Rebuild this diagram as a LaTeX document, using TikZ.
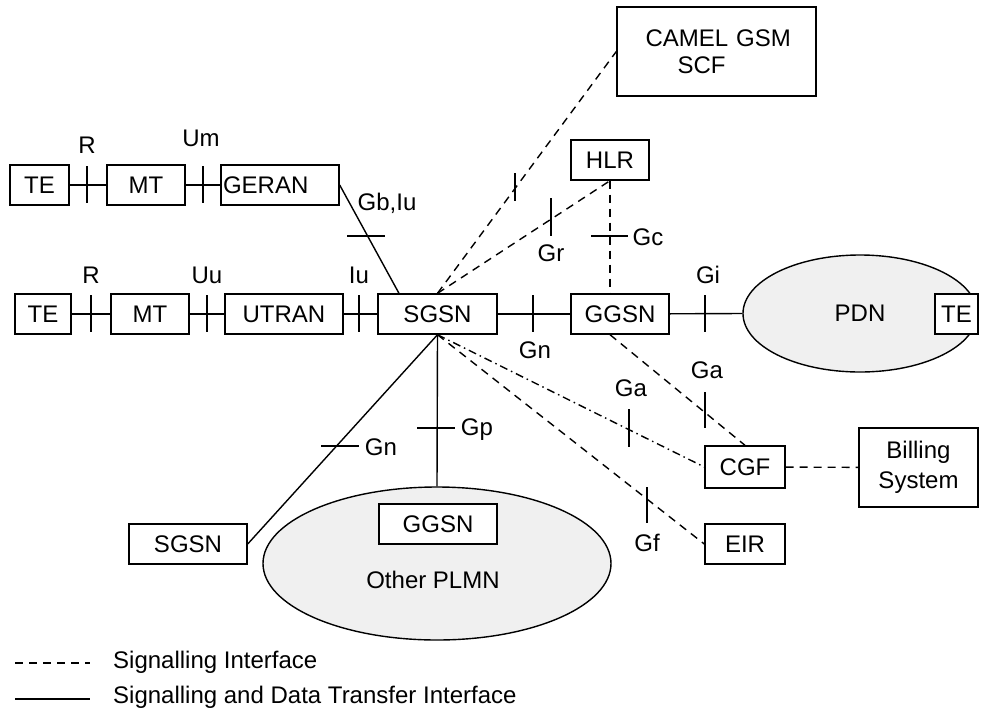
\documentclass[tikz,border=0pt]{standalone}
\usepackage{fontspec}
\setmainfont{Liberation Sans}
\usetikzlibrary{calc,shapes.geometric}
\begin{document}
\begin{tikzpicture}[x=1pt,y=-1pt,
  every node/.style={font=\fontsize{24}{29}\selectfont},
  ln/.style={line width=1.4pt},
  box/.style={draw, line width=1.4pt, fill=white, inner sep=0pt, minimum height=40pt},
  net/.style={draw, ellipse, line width=1.4pt, fill=black!6, inner sep=0pt},
  sig/.style={ln, dash pattern=on 8pt off 6pt},
  sigdot/.style={ln, dash pattern=on 8pt off 4pt on 1.5pt off 4pt},
  lbl/.style={inner sep=0pt}]
\useasboundingbox (0,0) rectangle (986,713);

% GERAN access row
\node[box, minimum width=59pt] (te1) at (39.5,185) {TE};
\node[box, minimum width=78pt] (mt1) at (146,185) {MT};
\node[box, minimum width=118pt, text width=114pt, align=left] (geran) at (280,185) {GERAN};

% UTRAN access row and core
\node[box, minimum width=56pt] (te2) at (43,314) {TE};
\node[box, minimum width=78pt] (mt2) at (150,314) {MT};
\node[box, minimum width=118pt] (utran) at (284,314) {UTRAN};
\node[box, minimum width=119pt] (sgsn) at (437.5,314) {SGSN};
\node[box, minimum width=98pt] (ggsn) at (620,314) {GGSN};
\node[box, minimum width=78pt] (hlr) at (610,160) {HLR};
\node[box, minimum width=199pt, minimum height=89pt, text width=142pt, align=left,
      font=\fontsize{24}{27}\selectfont] (camel) at (716.5,51.5)
      {\mbox{CAMEL GSM}\\\hspace*{32pt}SCF};

% packet data network
\node[net, minimum width=234pt, minimum height=117pt] (pdn) at (860,313.5) {PDN};
\node[box, minimum width=43pt] (te3) at (956.5,314) {TE};

% charging and equipment identity
\node[box, minimum width=80pt, minimum height=42pt] (cgf) at (745,467) {CGF};
\node[box, minimum width=119pt, minimum height=79pt, align=center,
      font=\fontsize{24}{30}\selectfont] (bill) at (918.5,467.5) {Billing\\System};
\node[box, minimum width=80pt] (eir) at (745,544) {EIR};

% other networks
\node[box, minimum width=118pt] (sgsn2) at (188,544) {SGSN};
\node[net, minimum width=348pt, minimum height=153pt] (plmn) at (437,563.5) {};
\node[lbl] (plmntxt) at (433,580) {Other PLMN};
\node[box, minimum width=118pt] (ggsn2) at (438,524) {GGSN};

% signalling and data transfer links
\draw[ln] (te1) -- (mt1);
\draw[ln] (mt1) -- (geran);
\draw[ln] (geran.east) -- ($(sgsn.north west)!0.18!(sgsn.north east)$);
\draw[ln] (te2) -- (mt2);
\draw[ln] (mt2) -- (utran);
\draw[ln] (utran) -- (sgsn);
\draw[ln] (sgsn) -- (ggsn);
\draw[ln] (ggsn) -- (pdn.west);
\draw[ln] (sgsn.south) -- (sgsn2.east);
\draw[ln] (sgsn.south) -- (plmn.north);

% signalling-only links
\draw[sig] (sgsn.north) -- (camel.west);
\draw[sig] (sgsn.north) -- (hlr.south);
\draw[sig] (hlr.south) -- (hlr.south |- ggsn.north);
\draw[sig] (hlr.south |- ggsn.south) -- (cgf.north);
\draw[sigdot] (sgsn.south) -- (cgf.west);
\draw[sig] (sgsn.south) -- (eir.west);
\draw[sig] (cgf) -- (bill);

% interface reference points
\draw[ln] (87,166) -- (87,203);
\draw[ln] (203,166) -- (203,203);
\draw[ln] (347,236) -- (385,236);
\draw[ln] (91,295) -- (91,332);
\draw[ln] (207,295) -- (207,332);
\draw[ln] (359,295) -- (359,332);
\draw[ln] (533,295) -- (533,332);
\draw[ln] (705,295) -- (705,332);
\draw[ln] (515,173) -- (515,201);
\draw[ln] (551,198) -- (551,236);
\draw[ln] (591,236) -- (628,236);
\draw[ln] (321,446) -- (359,446);
\draw[ln] (417,428) -- (455,428);
\draw[ln] (629,409) -- (629,447);
\draw[ln] (705,392) -- (705,428);
\draw[ln] (647,487) -- (647,523);

% interface names
\node[lbl] (lr1) at (87,145) {R};
\node[lbl] (lum) at (201,138) {Um};
\node[lbl] (lgb) at (387,203) {Gb,Iu};
\node[lbl] (lr2) at (91,275) {R};
\node[lbl] (luu) at (207,275) {Uu};
\node[lbl] (liu) at (359,275) {Iu};
\node[lbl] (lgr) at (551,253) {Gr};
\node[lbl] (lgc) at (648,237) {Gc};
\node[lbl] (lgn) at (535,350) {Gn};
\node[lbl] (lgi) at (708,275) {Gi};
\node[lbl] (lgn2) at (381,447) {Gn};
\node[lbl] (lgp) at (477,430) {Gp};
\node[lbl] (lga1) at (631,388) {Ga};
\node[lbl] (lga2) at (707,370) {Ga};
\node[lbl] (lgf) at (647,543) {Gf};

% legend
\coordinate (k1a) at (15,663);
\coordinate (k1b) at (90,663);
\coordinate (k2a) at (15,699);
\coordinate (k2b) at (90,699);
\draw[sig] (k1a) -- (k1b);
\draw[ln] (k2a) -- (k2b);
\node[lbl, anchor=west] (key1) at (113,662) {Signalling Interface};
\node[lbl, anchor=west] (key2) at (113,697) {Signalling and Data Transfer Interface};
\end{tikzpicture}
\end{document}
